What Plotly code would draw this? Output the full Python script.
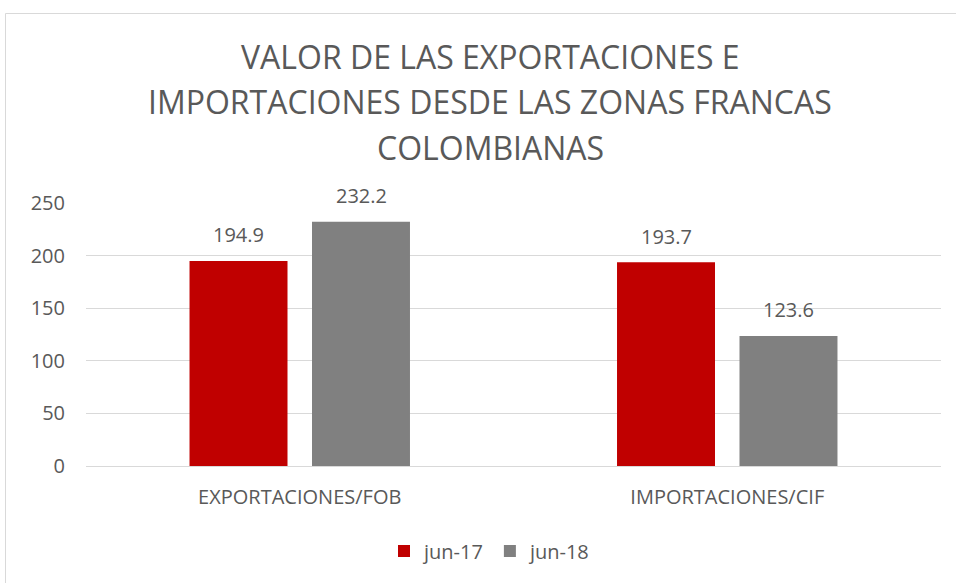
import plotly.graph_objects as go

categories = ["EXPORTACIONES/FOB", "IMPORTACIONES/CIF"]
series_names = ["jun-17", "jun-18"]
values_jun17 = [194.9, 193.7]
values_jun18 = [232.2, 123.6]
colors = ["#C00000", "#808080"]
title_lines = ["VALOR DE LAS EXPORTACIONES E",
               "IMPORTACIONES DESDE LAS ZONAS FRANCAS",
               "COLOMBIANAS"]
y_ticks = [0, 50, 100, 150, 200, 250]

W, H = 956, 583
L, R, T, B = 86, 15, 203, 117
ph = H - T - B
pw = W - L - R

def py(Y):
    return (H - B - Y) / ph

def px(X):
    return (X - L) / pw

FONT = "Open Sans"
TXT = "#595959"

fig = go.Figure()
all_vals = [values_jun17, values_jun18]
for name, vals, c in zip(series_names, all_vals, colors):
    fig.add_trace(go.Bar(x=categories, y=vals, name=name, marker_color=c,
                         marker_line_width=0))

annotations = []
offsets = [-61.25, 61.25]
for vals, off in zip(all_vals, offsets):
    for cat, v in zip(categories, vals):
        annotations.append(dict(x=cat, y=v, xref="x", yref="y", text=f"{v:.1f}",
                                showarrow=False, xshift=off, yshift=26,
                                yanchor="middle",
                                font=dict(family=FONT, size=20, color=TXT)))

title_y = [56.5, 102, 147.5]
for line, yy in zip(title_lines, title_y):
    annotations.append(dict(x=(490 - L) / pw, y=py(yy), xref="paper", yref="paper",
                            text=line, showarrow=False, xanchor="center", yanchor="middle",
                            font=dict(family=FONT, size=32, color=TXT)))

fig.update_layout(
    width=W, height=H,
    margin=dict(l=L, r=R, t=T, b=B, autoexpand=False),
    paper_bgcolor="white", plot_bgcolor="white",
    barmode="group", bargap=0.427, bargroupgap=0.2,
    showlegend=True,
    legend=dict(orientation="h", x=px(384), xanchor="left", y=py(551), yanchor="middle",
                font=dict(family=FONT, size=20, color=TXT), bgcolor="rgba(0,0,0,0)",
                itemwidth=30),
    annotations=annotations,
    shapes=[dict(type="rect", xref="paper", yref="paper",
                 x0=px(5.5), x1=px(970), y0=py(13.5), y1=py(600),
                 line=dict(color="#D9D9D9", width=1), fillcolor="rgba(0,0,0,0)", layer="below")],
)
fig.update_yaxes(range=[0, 250], tickvals=y_ticks, showgrid=True, gridcolor="#D9D9D9",
                 gridwidth=1, zeroline=False, showline=False,
                 tickfont=dict(family=FONT, size=20, color=TXT), ticklabelstandoff=20)
fig.update_xaxes(showline=True, linecolor="#D9D9D9", linewidth=1, showgrid=False,
                 tickfont=dict(family=FONT, size=20, color=TXT), ticklabelstandoff=13)

fig.write_html("out.html", config={"displayModeBar": False},
               post_script="document.body.style.margin='0';")
